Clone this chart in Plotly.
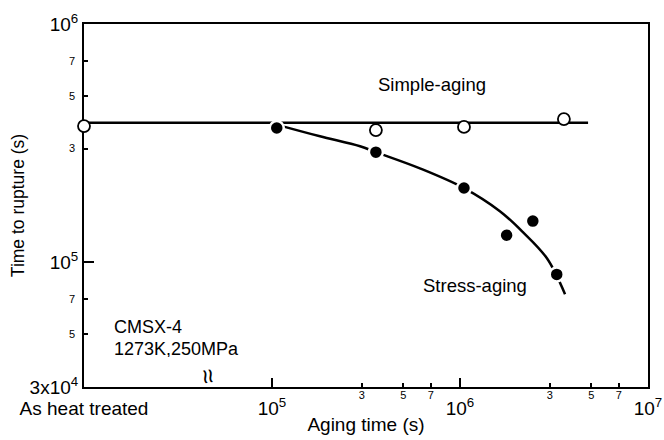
import plotly.graph_objects as go

# ---- data ----
simple_x = [1e4, 3.57e5, 1.05e6, 3.57e6]          # 1e4 position = "As heat treated"
simple_y = [3.73e5, 3.59e5, 3.70e5, 3.99e5]
simple_line_x = [1e4, 4.8e6]
simple_line_y = [3.85e5, 3.85e5]

stress_x = [1.06e5, 3.57e5, 1.05e6, 1.77e6, 2.44e6, 3.27e6]
stress_y = [3.66e5, 2.90e5, 2.05e5, 1.30e5, 1.49e5, 8.9e4]
stress_curve_x = [1.13e5, 1.80e5, 2.94e5, 3.57e5, 6.12e5, 1.05e6, 1.63e6, 2.16e6, 2.90e6, 3.62e6]
stress_curve_y = [3.73e5, 3.38e5, 3.07e5, 2.90e5, 2.48e5, 2.05e5, 1.64e5, 1.34e5, 1.04e5, 7.35e4]

x_major_vals = [1e4, 1e5, 1e6, 1e7]
x_major_text = ["As heat treated", "10<sup>5</sup>", "10<sup>6</sup>", "10<sup>7</sup>"]
x_minor_vals = [3e5, 5e5, 7e5, 3e6, 5e6, 7e6]
x_minor_text = ["3", "5", "7", "3", "5", "7"]
y_major_vals = [3e4, 1e5, 1e6]
y_major_text = ["3x10<sup>4</sup>", "10<sup>5</sup>", "10<sup>6</sup>"]
y_minor_vals = [5e4, 7e4, 3e5, 5e5, 7e5]
y_minor_text = ["5", "7", "3", "5", "7"]

FONT = "Liberation Sans, Arial, sans-serif"
XR = [4, 7]
YR = [4.4771, 6]

fig = go.Figure()

fig.add_trace(go.Scatter(x=simple_line_x, y=simple_line_y, mode="lines",
                         line=dict(color="black", width=2.5), showlegend=False,
                         hoverinfo="skip", cliponaxis=False))
fig.add_trace(go.Scatter(x=stress_curve_x, y=stress_curve_y, mode="lines",
                         line=dict(color="black", width=2.5, shape="spline", smoothing=1.0),
                         showlegend=False, hoverinfo="skip", cliponaxis=False))
fig.add_trace(go.Scatter(x=stress_x, y=stress_y, mode="markers",
                         marker=dict(size=14, color="black", line=dict(color="white", width=2.5)),
                         showlegend=False, cliponaxis=False))
fig.add_trace(go.Scatter(x=simple_x, y=simple_y, mode="markers",
                         marker=dict(size=12, color="white", line=dict(color="black", width=1.8)),
                         showlegend=False, cliponaxis=False))

common = dict(showgrid=False, zeroline=False, layer="below traces", automargin=False,
              tickcolor="black", tickwidth=1.5, ticks="inside")

fig.update_layout(
    width=664, height=440,
    margin=dict(l=84, r=16, t=24, b=53),
    paper_bgcolor="white", plot_bgcolor="white",
    font=dict(family=FONT, color="black", size=18),
    xaxis=dict(
        type="log", range=XR, tickmode="array", tickvals=x_major_vals, ticktext=x_major_text,
        ticklen=9, tickfont=dict(size=19), ticklabelstandoff=3,
        showline=True, linecolor="black", linewidth=2, mirror=True,
        title=dict(text="Aging time (s)", font=dict(size=19), standoff=0),
        **common,
    ),
    xaxis2=dict(
        type="log", range=XR, overlaying="x", anchor="y", side="bottom",
        tickmode="array", tickvals=x_minor_vals, ticktext=x_minor_text,
        ticklen=4, tickfont=dict(size=11), showline=False, **common,
    ),
    yaxis=dict(
        type="log", range=YR, tickmode="array", tickvals=y_major_vals, ticktext=y_major_text,
        ticklen=10, tickfont=dict(size=19),
        showline=True, linecolor="black", linewidth=2, mirror=True,
        title=dict(text="Time to rupture (s)", font=dict(size=17.5), standoff=0),
        **common,
    ),
    yaxis2=dict(
        type="log", range=YR, overlaying="y", anchor="x", side="left",
        tickmode="array", tickvals=y_minor_vals, ticktext=y_minor_text,
        ticklen=4, tickfont=dict(size=11), ticklabelstandoff=8, showline=False, **common,
    ),
    annotations=[
        dict(text="Simple-aging", x=5.85, y=5.745, xref="x", yref="y", showarrow=False,
             font=dict(size=18.5)),
        dict(text="Stress-aging", x=6.08, y=4.901, xref="x", yref="y", showarrow=False,
             font=dict(size=18.5)),
        dict(text="CMSX-4", x=4.154, y=4.729, xref="x", yref="y", height=16, borderpad=0,
             xanchor="left", showarrow=False, font=dict(size=18)),
        dict(text="1273K,250MPa", x=4.154, y=4.637, xref="x", yref="y", height=16, borderpad=0,
             xanchor="left", showarrow=False, font=dict(size=18)),
        dict(text="≈", x=4.66, y=0, xref="x", yref="paper", showarrow=False,
             textangle=80, font=dict(size=26), bgcolor="white", borderpad=0),
    ],
)

# invisible helper trace so the overlay axes are drawn
fig.add_trace(go.Scatter(x=[1e5], y=[1e5], xaxis="x2", yaxis="y2", mode="markers",
                         marker=dict(opacity=0), showlegend=False, hoverinfo="skip"))

fig.write_html("out.html")
